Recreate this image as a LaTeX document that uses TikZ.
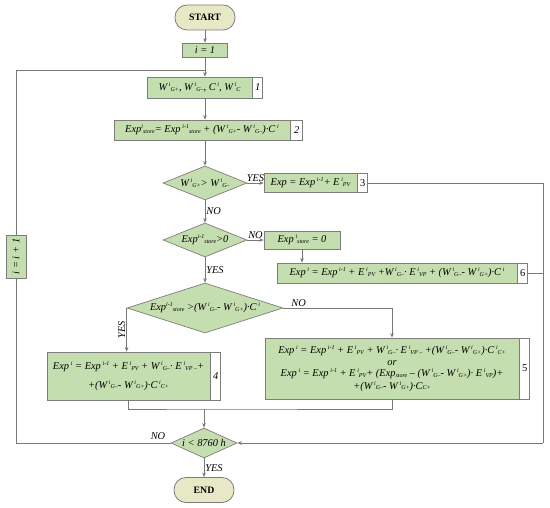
\documentclass[tikz,border=0pt]{standalone}
\usepackage{fontspec}
\setmainfont{Liberation Serif}
\usetikzlibrary{shapes.geometric,arrows.meta}
\definecolor{gfill}{RGB}{197,222,176}
\definecolor{tfill}{RGB}{230,232,198}
\definecolor{bc}{RGB}{125,125,125}
\definecolor{lc}{RGB}{120,120,120}
\newcommand{\Sp}[1]{\raisebox{3.9pt}{\fontsize{6}{6}\selectfont #1}}
\newcommand{\Sb}[1]{\raisebox{-0.9pt}{\fontsize{6}{6}\selectfont #1}}
\newcommand{\WG}[1]{W\,\Sp{i}\Sb{G#1}}
\newcommand{\Xst}[1]{Exp\Sp{#1}\Sb{store}}
\newcommand{\XpI}[1]{Exp\,\Sp{#1}}
\newcommand{\Ei}[1]{E\,\Sp{i}\Sb{#1}}
\newcommand{\fsz}{\fontsize{10.4}{13.5}\selectfont\itshape}
\newcommand{\fsu}{\fontsize{10.4}{13.5}\selectfont}
\begin{document}
\begin{tikzpicture}[x=1pt,y=-1pt,
  ln/.style={draw=lc,line width=0.7pt},
  arr/.style={ln,-{Stealth[length=4.5pt,width=3.6pt]}},
  gbox/.style={draw=bc,fill=gfill,inner sep=0pt,font=\fsz,line width=0.7pt},
  tabbox/.style={draw=bc,fill=white,inner sep=0pt,font=\fsu,line width=0.7pt,minimum width=10pt},
  term/.style={draw=bc,fill=tfill,rounded corners=12pt,line width=0.8pt,minimum width=60pt,minimum height=25pt,font=\fontsize{9.8}{10}\selectfont\bfseries},
  dia/.style={diamond,draw=bc,fill=gfill,inner sep=0pt,line width=0.7pt},
  lab/.style={font=\fsz,inner sep=1pt}]
\useasboundingbox (0,0) rectangle (550,508);
% terminals
\node[term] (start) at (205,17.5) {START};
\node[term] (end) at (204,490) {END};
% i=1
\node[gbox,minimum width=45pt,minimum height=14pt] (i1) at (205,50) {i = 1};
% box1
\node[gbox,minimum width=105pt,minimum height=21pt] (b1) at (199.5,87.5) {\WG{+}, \WG{–}, C\,\Sp{i}, W\,\Sp{i}\Sb{C}};
\node[tabbox,minimum height=21pt,anchor=west,font=\fsz] (t1) at (b1.east) {1};
% box2
\node[gbox,minimum width=176pt,minimum height=20pt] (b2) at (202,130) {\Xst{i}= \XpI{i-1}\Sb{store} + (\WG{+}- \WG{–})·C\,\Sp{i}};
\node[tabbox,minimum height=20pt,minimum width=12pt,anchor=west,font=\fsz] (t2) at (b2.east) {2};
% diamond1
\node[dia,minimum width=84pt,minimum height=34pt,label={[font=\fsz]center:\WG{+}> \WG{–}}] (d1) at (205,183) {};
% box3
\node[gbox,minimum width=93pt,minimum height=19pt] (b3) at (310.5,183) {Exp = \XpI{i-1}+ \Ei{PV}};
\node[tabbox,minimum height=19pt,anchor=west] (t3) at (b3.east) {3};
% diamond2
\node[dia,minimum width=84pt,minimum height=34pt,label={[font=\fsz]center:Exp\Sp{i-1}\Sb{store}>0}] (d2) at (205,240) {};
% store0
\node[gbox,minimum width=76pt,minimum height=18pt] (s0) at (302,240) {\XpI{i}\Sb{store} = 0};
% box6
\node[gbox,minimum width=240pt,minimum height=20pt] (b6) at (397,273) {\XpI{i} = \XpI{i-1} + \Ei{PV} +\WG{–}· \Ei{VP} + (\WG{–}- \WG{+})·C\,\Sp{i}};
\node[tabbox,minimum height=20pt,anchor=west] (t6) at (b6.east) {6};
% diamond3
\node[dia,minimum width=156pt,minimum height=50pt,label={[font=\fsz]center:Exp\Sp{i-1}\Sb{store} >(\WG{–}- \WG{+})·C\,\Sp{i}}] (d3) at (205,308) {};
% box4
\node[gbox,minimum width=163pt,minimum height=48pt,align=center] (b4) at (128.5,376) {\XpI{i} = \XpI{i-1} + \Ei{PV} + \WG{–}· \Ei{VP –}+\\[5pt] +(\WG{–}- \WG{+})·C\,\Sp{i}\Sb{C+}};
\node[tabbox,minimum height=48pt,anchor=west,font=\fsz] (t4) at (b4.east) {4};
% box5
\node[gbox,minimum width=254pt,minimum height=61pt,align=center] (b5) at (392,368.5) {\XpI{i} = \XpI{i-1} + \Ei{PV} + \WG{–}· \Ei{VP –} +(\WG{–}- \WG{+})·C\,\Sp{i}\Sb{C+}\\[-2pt] or\\[-2pt] \XpI{i} = \XpI{i-1} + \Ei{PV}+ (Exp\Sb{store} – (\WG{–}- \WG{+})· \Ei{VP})+\\[-1pt] +(\WG{–}- \WG{+})·C\Sb{C+}};
\node[tabbox,minimum height=61pt,anchor=west] (t5) at (b5.east) {5};
% diamond4
\node[dia,minimum width=66pt,minimum height=30pt,label={[font=\fsz]center:i < 8760 h}] (d4) at (204,443) {};
% i=i+1
\node[gbox,minimum width=43pt,minimum height=20pt,rotate=90] (inc) at (16,256.5) {i = i + 1};
% coordinates
\coordinate (top) at (205,70);
\coordinate (j) at (204,409);
\coordinate (rt) at (543,183);
\coordinate (rb) at (543,443);
% connectors
\draw[arr] (start) -- (i1);
\draw[arr] (i1) -- (i1 |- b1.north);
\draw[arr] (b1.south -| i1.south) -- (i1.south |- b2.north);
\draw[arr] (b2.south -| d1.north) -- (d1.north);
\draw[arr] (d1.east) -- (b3.west) node[lab,midway,above] {YES};
\draw[arr] (d1.south) -- (d2.north) node[lab,midway,right] {NO};
\draw[arr] (d2.east) -- (s0.west) node[lab,midway,above] {NO};
\draw[arr] (s0.south) -- (s0.south |- b6.north);
\draw[arr] (d2.south) -- (d3.north) node[lab,midway,right] {YES};
\draw[arr] (d3.west) -- (d3.west |- b4.north) node[lab,midway,left,rotate=90,anchor=south] {YES};
\draw[arr] (d3.east) -| (b5.north) node[lab,pos=0.07,above] {NO};
\draw[ln] (b4.south) |- (j) -| (b5.south);
\draw[arr] (j) -- (d4.north);
\draw[ln] (t3.east) -- (rt) -- (rb);
\draw[ln] (t6.east) -- (t6.east -| rt);
\draw[arr] (rb) -- (d4.east);
\draw[arr] (d4.south) -- (end.north) node[lab,midway,right] {YES};
\draw[ln] (d4.west) -- (d4.west -| inc.east) -- (inc.west);
\draw[ln] (inc.east) -- (inc.east |- top) -- (top);
\node[lab,above] (nol) at (158,441) {NO};
\end{tikzpicture}
\end{document}
